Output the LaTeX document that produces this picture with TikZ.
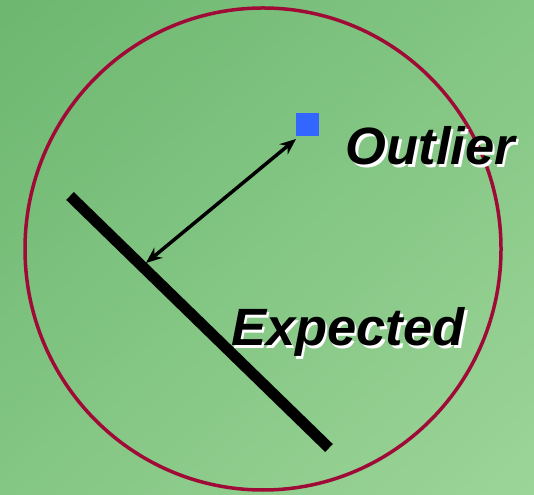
\documentclass[tikz,border=0pt]{standalone}
\usepackage{fontspec}
\setmainfont{Liberation Sans}
\usetikzlibrary{arrows.meta,shadings}
\definecolor{bgA}{RGB}{108,183,112}
\definecolor{bgB}{RGB}{156,213,152}
\definecolor{bgM}{RGB}{132,198,132}
\definecolor{ring}{RGB}{160,10,55}
\definecolor{sq}{RGB}{51,102,255}
\tikzset{
  lbl/.style={anchor=base west,inner sep=0pt,font=\fontsize{52.5}{60}\selectfont\bfseries\itshape},
  ptr/.style={line width=3.5pt,{Stealth[length=16pt,width=13pt]}-{Stealth[length=16pt,width=13pt]}}
}
\begin{document}
\begin{tikzpicture}[x=1pt,y=1pt]
\useasboundingbox (0,0) rectangle (534,494);
\shade[upper left=bgA,lower right=bgB,upper right=bgM,lower left=bgM] (0,0) rectangle (534,494);
\draw[ring,line width=3.5pt] (263,245) ellipse [x radius=238,y radius=241];
\coordinate (a) at (70,298);
\coordinate (b) at (329,46);
\draw[line width=11pt] (a) -- (b);
\node[fill=sq,minimum size=23pt,inner sep=0pt] (s) at (307.5,369.5) {};
\coordinate (p) at (146,231);
\coordinate (q) at (296,355);
\draw[ptr] (p) -- (q);
\node[lbl,white] (o2) at (348,326.5) {Outlier};
\node[lbl] (o) at (345.5,329) {Outlier};
\node[lbl,white] (e2) at (233.5,145.5) {Expected};
\node[lbl] (e) at (231,148) {Expected};
\end{tikzpicture}
\end{document}
